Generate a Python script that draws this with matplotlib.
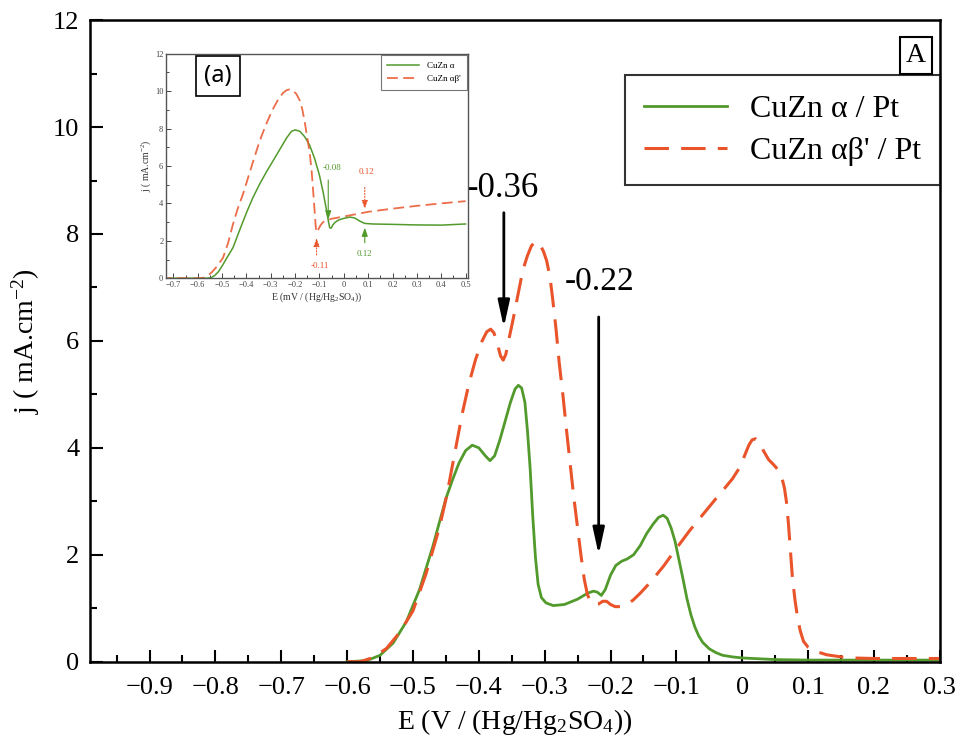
import matplotlib
matplotlib.use("Agg")
import matplotlib.pyplot as plt
from matplotlib.ticker import MultipleLocator

plt.rcParams['font.family'] = ['Liberation Serif', 'DejaVu Serif']
plt.rcParams['mathtext.fontset'] = 'custom'
plt.rcParams['mathtext.rm'] = 'Liberation Serif'
plt.rcParams['mathtext.it'] = 'Liberation Serif:italic'

# main curves
alpha_E = [-0.60, -0.57, -0.55, -0.53, -0.51, -0.49, -0.47, -0.45, -0.44, -0.43,
           -0.42, -0.41, -0.40, -0.39, -0.383, -0.376, -0.368, -0.36, -0.352, -0.345,
           -0.34, -0.335, -0.33, -0.326, -0.322, -0.318, -0.314, -0.31, -0.305, -0.298,
           -0.287, -0.27, -0.25, -0.235, -0.226, -0.22, -0.214, -0.208, -0.2, -0.192,
           -0.183, -0.175, -0.165, -0.155, -0.145, -0.135, -0.127, -0.12, -0.114, -0.108,
           -0.102, -0.096, -0.09, -0.084, -0.078, -0.072, -0.066, -0.06, -0.05, -0.04,
           -0.03, -0.015, 0.0, 0.05, 0.1, 0.2, 0.3]
alpha_j = [0.0, 0.02, 0.12, 0.35, 0.75, 1.35, 2.15, 3.05, 3.4, 3.72,
           3.95, 4.05, 4.0, 3.85, 3.76, 3.85, 4.15, 4.5, 4.85, 5.1,
           5.17, 5.12, 4.85, 4.3, 3.6, 2.7, 1.95, 1.45, 1.2, 1.1,
           1.05, 1.07, 1.17, 1.28, 1.32, 1.3, 1.24, 1.35, 1.62, 1.8,
           1.88, 1.92, 2.0, 2.17, 2.4, 2.58, 2.7, 2.74, 2.68, 2.5,
           2.25, 1.9, 1.55, 1.18, 0.88, 0.65, 0.48, 0.36, 0.24, 0.17,
           0.12, 0.09, 0.07, 0.04, 0.03, 0.03, 0.03]

ab_E = [-0.60, -0.58, -0.56, -0.54, -0.52, -0.50, -0.48, -0.46, -0.449, -0.435,
        -0.425, -0.415, -0.405, -0.395, -0.388, -0.382, -0.377, -0.372, -0.367, -0.363,
        -0.359, -0.354, -0.348, -0.34, -0.333, -0.326, -0.32, -0.314, -0.308, -0.302,
        -0.297, -0.292, -0.288, -0.283, -0.278, -0.272, -0.267, -0.262, -0.256, -0.25,
        -0.245, -0.24, -0.235, -0.23, -0.225, -0.218, -0.212, -0.206, -0.2, -0.193,
        -0.185, -0.175, -0.166, -0.155, -0.14, -0.12, -0.1, -0.08, -0.06, -0.04,
        -0.029, -0.015, -0.003, 0.005, 0.01, 0.015, 0.02, 0.026, 0.032, 0.04,
        0.048, 0.055, 0.06, 0.064, 0.067, 0.07, 0.073, 0.076, 0.08, 0.084,
        0.088, 0.093, 0.1, 0.11, 0.128, 0.15, 0.168, 0.2, 0.3]
ab_j = [0.0, 0.0, 0.08, 0.25, 0.55, 0.95, 1.65, 2.5, 3.09, 4.0,
        4.65, 5.2, 5.65, 6.0, 6.17, 6.22, 6.15, 5.95, 5.72, 5.64,
        5.75, 6.05, 6.4, 6.9, 7.33, 7.6, 7.78, 7.86, 7.82, 7.68,
        7.5, 7.2, 6.8, 6.25, 5.6, 4.95, 4.35, 3.78, 3.1, 2.5,
        2.0, 1.55, 1.25, 1.12, 1.07, 1.08, 1.13, 1.13, 1.07, 1.03,
        1.03, 1.07, 1.15, 1.28, 1.48, 1.78, 2.12, 2.45, 2.75, 3.05,
        3.21, 3.42, 3.65, 3.9, 4.05, 4.15, 4.17, 4.1, 3.95, 3.78,
        3.68, 3.58, 3.45, 3.25, 3.0, 2.6, 2.1, 1.6, 1.16, 0.82,
        0.58, 0.38, 0.27, 0.2, 0.13, 0.09, 0.07, 0.06, 0.06]

# inset curves
in_alpha_E = [-0.75, -0.56, -0.545, -0.53, -0.515, -0.50, -0.48, -0.455, -0.43, -0.40,
              -0.373, -0.345, -0.315, -0.29, -0.26, -0.235, -0.215, -0.20, -0.18, -0.16,
              -0.14, -0.12, -0.10, -0.085, -0.072, -0.064, -0.058, -0.052, -0.045, -0.035,
              -0.02, 0.0, 0.025, 0.045, 0.066, 0.086, 0.12, 0.2, 0.3, 0.4, 0.5]
in_alpha_j = [0.0, 0.0, 0.03, 0.15, 0.35, 0.65, 1.1, 1.64, 2.5, 3.5,
              4.32, 5.05, 5.75, 6.29, 6.95, 7.5, 7.85, 7.93, 7.85, 7.55,
              7.1, 6.4, 5.5, 4.6, 3.7, 3.1, 2.7, 2.68, 2.85, 3.0,
              3.12, 3.2, 3.27, 3.22, 3.05, 2.93, 2.9, 2.88, 2.85, 2.84, 2.9]
in_ab_E = [-0.75, -0.59, -0.578, -0.56, -0.54, -0.52, -0.496, -0.475, -0.455, -0.435,
           -0.414, -0.395, -0.37, -0.345, -0.32, -0.295, -0.27, -0.25, -0.235, -0.222,
           -0.208, -0.195, -0.181, -0.17, -0.16, -0.15, -0.14, -0.132, -0.125, -0.119,
           -0.115, -0.112, -0.105, -0.095, -0.085, -0.07, -0.05, 0.0, 0.1, 0.2,
           0.3, 0.4, 0.5]
in_ab_j = [0.0, 0.0, 0.02, 0.12, 0.35, 0.65, 1.1, 1.9, 2.9, 3.75,
           4.5, 5.3, 6.35, 7.36, 8.2, 8.95, 9.55, 9.9, 10.05, 10.1,
           10.02, 9.85, 9.5, 9.0, 8.3, 7.5, 6.7, 5.7, 4.5, 3.43,
           2.7, 2.45, 2.6, 2.85, 3.0, 3.1, 3.18, 3.3, 3.55, 3.72,
           3.87, 4.0, 4.12]

green = '#529a2c'
red = '#e9542a'

fig = plt.figure(figsize=(9.6, 7.46), dpi=100)
ax = fig.add_axes([0.094, 0.113, 0.885, 0.860])

ax.plot(alpha_E, alpha_j, color=green, lw=2.0, label='CuZn α / Pt')
ax.plot(ab_E, ab_j, color=red, lw=2.2, dashes=(8, 4), label="CuZn αβ' / Pt")

ax.set_xlim(-0.99, 0.3)
ax.set_ylim(0, 12)
ax.xaxis.set_minor_locator(MultipleLocator(0.05))
ax.yaxis.set_major_locator(MultipleLocator(2))
ax.yaxis.set_minor_locator(MultipleLocator(1))
ax.set_xticks([-0.9, -0.8, -0.7, -0.6, -0.5, -0.4, -0.3, -0.2, -0.1, 0, 0.1, 0.2, 0.3])
ax.set_xticklabels(['\u22120.9', '\u22120.8', '\u22120.7', '\u22120.6', '\u22120.5', '\u22120.4',
                    '\u22120.3', '\u22120.2', '\u22120.1', '0', '0.1', '0.2', '0.3'])
ax.tick_params(which='both', direction='in', width=1.5, labelsize=19)
ax.tick_params(which='major', length=9)
ax.tick_params(which='minor', length=5)
ax.tick_params(axis='x', pad=11)
ax.tick_params(axis='y', pad=8)
for s in ax.spines.values():
    s.set_linewidth(1.8)

ax.set_xlabel('E (V / (Hg/Hg$_2$SO$_4$))', fontsize=20, labelpad=6)
ax.set_ylabel('j ( mA.cm$^{\\mathregular{-2}}$)', fontsize=20, labelpad=8)

leg = ax.legend(loc='upper right', bbox_to_anchor=(1.0, 0.914), fontsize=23,
                frameon=True, fancybox=False, edgecolor='black', handlelength=2.6,
                handletextpad=0.7, borderpad=0.6, labelspacing=0.4, borderaxespad=0)
leg.get_frame().set_linewidth(1.5)

ax.text(0.972, 0.945, 'A', transform=ax.transAxes, fontsize=20, ha='center', va='center',
        bbox=dict(boxstyle='square,pad=0.22', fc='white', ec='black', lw=1.5))

# arrows
ax.annotate('', xy=(-0.362, 6.2), xytext=(-0.362, 8.45),
            arrowprops=dict(arrowstyle='-|>,head_length=1.6,head_width=0.35', color='black', lw=2))
ax.text(-0.364, 8.85, '-0.36', fontsize=25, ha='center', va='center')
ax.annotate('', xy=(-0.218, 1.95), xytext=(-0.218, 6.5),
            arrowprops=dict(arrowstyle='-|>,head_length=1.6,head_width=0.35', color='black', lw=2))
ax.text(-0.216, 7.1, '-0.22', fontsize=24, ha='center', va='center')

# inset
ins = fig.add_axes([0.173, 0.627, 0.3145, 0.301])
ins.plot(in_alpha_E, in_alpha_j, color=green, lw=1.1, label='CuZn α')
ins.plot(in_ab_E, in_ab_j, color=red, lw=1.3, dashes=(6, 3), label="CuZn αβ'", alpha=0.85)
ins.set_xlim(-0.73, 0.51)
ins.set_ylim(0, 12)
ins.set_xticks([-0.7, -0.6, -0.5, -0.4, -0.3, -0.2, -0.1, 0, 0.1, 0.2, 0.3, 0.4, 0.5])
ins.set_xticklabels(['\u22120.7', '\u22120.6', '\u22120.5', '\u22120.4', '\u22120.3', '\u22120.2',
                     '\u22120.1', '0', '0.1', '0.2', '0.3', '0.4', '0.5'])
ins.xaxis.set_minor_locator(MultipleLocator(0.05))
ins.yaxis.set_major_locator(MultipleLocator(2))
ins.yaxis.set_minor_locator(MultipleLocator(1))
ins.tick_params(which='both', direction='in', labelsize=6, width=0.7, colors='#444444')
ins.tick_params(which='major', length=3.5, pad=2)
ins.tick_params(which='minor', length=2)
for s in ins.spines.values():
    s.set_linewidth(1.0)
    s.set_color('#555555')
ins.set_xlabel('E (mV / (Hg/Hg$_2$SO$_4$))', fontsize=7, labelpad=1, color='#333333')
ins.set_ylabel('j ( mA.cm$^{\\mathregular{-2}}$)', fontsize=7, labelpad=1, color='#333333')

ileg = ins.legend(loc='upper right', fontsize=6.5, frameon=True, fancybox=False,
                  edgecolor='#555555', handlelength=3.6, borderpad=0.7, labelspacing=0.6,
                  borderaxespad=0.15)
ileg.get_frame().set_linewidth(0.8)

ins.text(0.172, 0.90, '(a)', transform=ins.transAxes, fontsize=17, ha='center', va='center',
         family=['Noto Sans', 'DejaVu Sans'],
         bbox=dict(boxstyle='square,pad=0.35', fc='white', ec='black', lw=1.2))

# inset markers
ins.annotate('', xy=(-0.064, 3.0), xytext=(-0.064, 5.4),
             arrowprops=dict(arrowstyle='-|>,head_length=0.5,head_width=0.18', color=green, lw=0.8))
ins.text(-0.05, 5.9, '-0.08', fontsize=6.5, color=green, ha='center', va='center')
ins.annotate('', xy=(0.086, 3.55), xytext=(0.086, 5.0),
             arrowprops=dict(arrowstyle='-|>,head_length=0.5,head_width=0.18', color=red, lw=0.8,
                             linestyle=':'))
ins.text(0.093, 5.66, '0.12', fontsize=6.5, color=red, ha='center', va='center')
ins.annotate('', xy=(0.086, 2.85), xytext=(0.086, 1.75),
             arrowprops=dict(arrowstyle='-|>,head_length=0.5,head_width=0.18', color=green, lw=0.8))
ins.text(0.086, 1.29, '0.12', fontsize=6.5, color=green, ha='center', va='center')
ins.annotate('', xy=(-0.112, 2.3), xytext=(-0.112, 1.1),
             arrowprops=dict(arrowstyle='-|>,head_length=0.5,head_width=0.18', color=red, lw=0.8,
                             linestyle=':'))
ins.text(-0.099, 0.66, '-0.11', fontsize=6.5, color=red, ha='center', va='center')

fig.savefig('out.png', dpi=100)
